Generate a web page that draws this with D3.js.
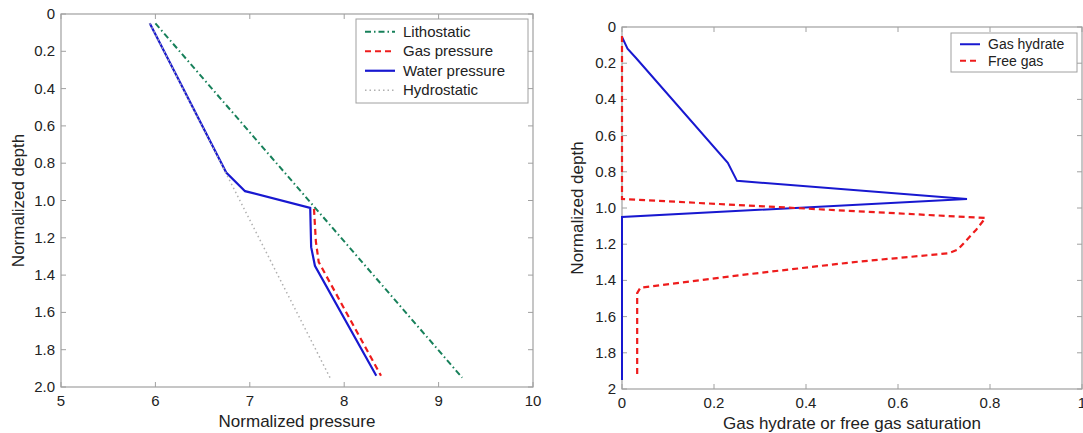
<!DOCTYPE html>
<html>
<head>
<meta charset="utf-8">
<script src="https://cdn.jsdelivr.net/npm/d3@7"></script>
<style>
  body { margin: 0; background: #fff; }
  text { font-family: "Liberation Sans", Arial, sans-serif; fill: #222; }
</style>
</head>
<body>
<svg id="chart" width="1083" height="433"></svg>
<script>
// left panel: normalized pressure vs depth, [pressure, depth]
var lithostatic = [[6.0, 0.05], [9.25, 1.95]];
var gasPressure = [[7.68, 1.045], [7.70, 1.22], [7.73, 1.33], [8.39, 1.94]];
var waterPressure = [[5.94, 0.05], [6.75, 0.85], [6.95, 0.95], [7.64, 1.04],
                     [7.65, 1.25], [7.69, 1.35], [8.34, 1.94]];
var hydrostatic = [[5.94, 0.05], [7.85, 1.95]];

// right panel: saturation vs depth, [saturation, depth]
var gasHydrate = [[0, 0.055], [0.012, 0.12], [0.03, 0.17], [0.23, 0.75], [0.25, 0.85],
                  [0.75, 0.95], [0, 1.05], [0, 1.95]];
var freeGas = [[0, 0.05], [0, 0.95], [0.79, 1.055], [0.77, 1.12], [0.73, 1.23],
               [0.71, 1.25], [0.50, 1.30], [0.26, 1.37], [0.04, 1.44], [0.033, 1.47], [0.033, 1.92]];

var leftXTicks = [5, 6, 7, 8, 9, 10];
var depthTicks = [0, 0.2, 0.4, 0.6, 0.8, 1.0, 1.2, 1.4, 1.6, 1.8, 2.0];
var rightXTicks = [0, 0.2, 0.4, 0.6, 0.8, 1];

var svg = d3.select("#chart");
var axisColor = "#a0a0a0";

function panel(opt) {
  var x = d3.scaleLinear().domain(opt.xDomain).range(opt.xRange);
  var y = d3.scaleLinear().domain([0, 2]).range(opt.yRange);
  var g = svg.append("g");

  g.append("rect")
    .attr("x", opt.xRange[0]).attr("y", opt.yRange[0])
    .attr("width", opt.xRange[1] - opt.xRange[0])
    .attr("height", opt.yRange[1] - opt.yRange[0])
    .attr("fill", "none").attr("stroke", axisColor).attr("stroke-width", 1.2);

  // ticks on all four sides, pointing inward
  opt.xTicks.forEach(function(t) {
    [opt.yRange[1], opt.yRange[0]].forEach(function(yy, i) {
      g.append("line").attr("x1", x(t)).attr("x2", x(t))
        .attr("y1", yy).attr("y2", i ? yy + 5 : yy - 5)
        .attr("stroke", axisColor);
    });
    g.append("text").attr("x", x(t)).attr("y", opt.yRange[1] + 19)
      .attr("text-anchor", "middle").attr("font-size", 15)
      .text(opt.xFmt(t));
  });
  depthTicks.forEach(function(t) {
    [opt.xRange[0], opt.xRange[1]].forEach(function(xx, i) {
      g.append("line").attr("y1", y(t)).attr("y2", y(t))
        .attr("x1", xx).attr("x2", i ? xx - 5 : xx + 5)
        .attr("stroke", axisColor);
    });
    g.append("text").attr("x", opt.xRange[0] - 6).attr("y", y(t) + 5)
      .attr("text-anchor", "end").attr("font-size", 15)
      .text(opt.yFmt(t));
  });

  g.append("text")
    .attr("x", (opt.xRange[0] + opt.xRange[1]) / 2).attr("y", opt.yRange[1] + 40)
    .attr("text-anchor", "middle").attr("font-size", 17)
    .text(opt.xLabel);
  g.append("text")
    .attr("transform", "translate(" + opt.yLabelX + "," + ((opt.yRange[0] + opt.yRange[1]) / 2) + ") rotate(-90)")
    .attr("text-anchor", "middle").attr("font-size", 17)
    .text("Normalized depth");

  var line = d3.line().x(function(d) { return x(d[0]); }).y(function(d) { return y(d[1]); });
  opt.series.forEach(function(s) {
    g.append("path").datum(s.data)
      .attr("d", line).attr("fill", "none")
      .attr("stroke", s.color).attr("stroke-width", s.width)
      .attr("stroke-dasharray", s.dash);
  });

  // legend
  var L = opt.legend;
  g.append("rect").attr("x", L.x).attr("y", L.y).attr("width", L.w)
    .attr("height", L.rowH * opt.series.length + 6)
    .attr("fill", "#fff").attr("stroke", axisColor);
  opt.series.forEach(function(s, i) {
    var yy = L.y + 3 + L.rowH * (i + 0.5);
    g.append("line").attr("x1", L.x + 9).attr("x2", L.x + 9 + L.lineW)
      .attr("y1", yy).attr("y2", yy)
      .attr("stroke", s.color).attr("stroke-width", s.width)
      .attr("stroke-dasharray", s.dash);
    g.append("text").attr("x", L.x + 17 + L.lineW).attr("y", yy + 5)
      .attr("font-size", L.font).text(s.name);
  });
}

panel({
  xDomain: [5, 10], xRange: [61, 533], yRange: [14, 387],
  xTicks: leftXTicks, xFmt: d3.format("d"), yFmt: function(t) { return t === 0 ? "0" : t.toFixed(1); },
  xLabel: "Normalized pressure", yLabelX: 24,
  legend: { x: 356, y: 19, w: 172, rowH: 19.5, lineW: 30, font: 15 },
  series: [
    { name: "Lithostatic", data: lithostatic, color: "#17805a", width: 2, dash: "6,3,1.5,3" },
    { name: "Gas pressure", data: gasPressure, color: "#ee1c1c", width: 2.2, dash: "6,4" },
    { name: "Water pressure", data: waterPressure, color: "#1818d0", width: 2.2, dash: null },
    { name: "Hydrostatic", data: hydrostatic, color: "#b0b0b0", width: 1.5, dash: "1.5,3" }
  ]
});

panel({
  xDomain: [0, 1], xRange: [622, 1082], yRange: [27, 389],
  xTicks: rightXTicks, xFmt: function(t) { return t === 0 || t === 1 ? String(t) : t.toFixed(1); },
  yFmt: function(t) { return t === 0 ? "0" : t === 2 ? "2" : t.toFixed(1); },
  xLabel: "Gas hydrate or free gas saturation", yLabelX: 583,
  legend: { x: 951, y: 33, w: 126, rowH: 16.5, lineW: 20, font: 14 },
  series: [
    { name: "Gas hydrate", data: gasHydrate, color: "#1818d0", width: 2, dash: null },
    { name: "Free gas", data: freeGas, color: "#ee1c1c", width: 2.2, dash: "6,4" }
  ]
});
</script>
</body>
</html>
